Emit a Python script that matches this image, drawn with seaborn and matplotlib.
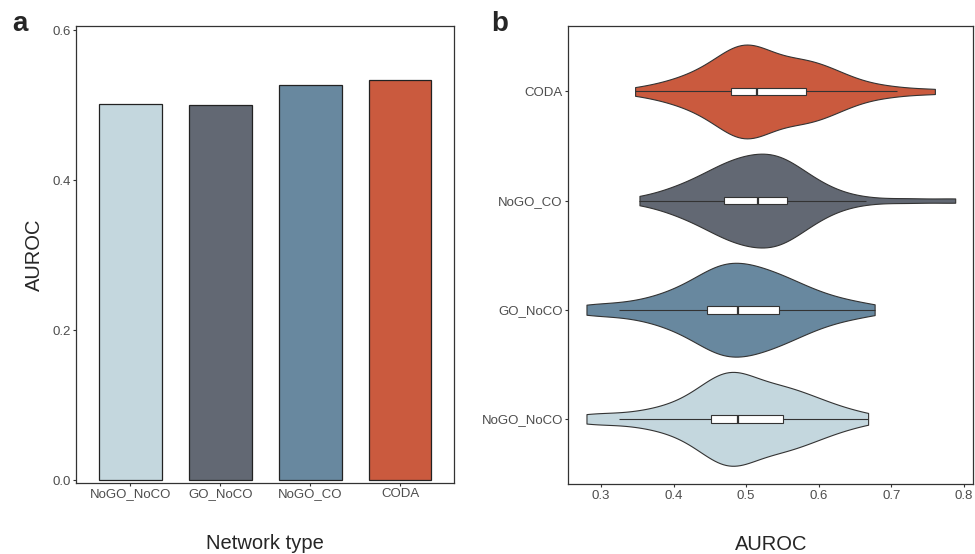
import numpy as np
import pandas as pd
import matplotlib
matplotlib.use("Agg")
import matplotlib.pyplot as plt
import seaborn as sns

# ---- data ----
bar_types = ['NoGO_NoCO', 'GO_NoCO', 'NoGO_CO', 'CODA']
bar_vals = [0.501, 0.500, 0.5275, 0.533]

violin_order = ['CODA', 'NoGO_CO', 'GO_NoCO', 'NoGO_NoCO']

auroc_coda = [0.347, 0.379, 0.394, 0.407, 0.418, 0.426, 0.434, 0.441, 0.448, 0.453, 0.459, 0.464, 0.469, 0.474, 0.478, 0.479,
              0.482, 0.485, 0.487, 0.490, 0.493, 0.495, 0.498, 0.500, 0.503, 0.506, 0.508, 0.510, 0.512, 0.514, 0.515,
              0.519, 0.524, 0.529, 0.534, 0.539, 0.544, 0.549, 0.554, 0.559, 0.564, 0.569, 0.574, 0.578, 0.582, 0.584,
              0.588, 0.593, 0.598, 0.603, 0.609, 0.615, 0.621, 0.628, 0.636, 0.646, 0.660, 0.685, 0.708, 0.760]
auroc_nogo_co = [0.353, 0.383, 0.395, 0.405, 0.414, 0.422, 0.429, 0.435, 0.441, 0.447, 0.451, 0.456, 0.460, 0.464, 0.469, 0.4695,
                 0.474, 0.477, 0.481, 0.484, 0.487, 0.490, 0.493, 0.497, 0.500, 0.503, 0.506, 0.509, 0.512, 0.5165, 0.517,
                 0.520, 0.523, 0.526, 0.529, 0.532, 0.535, 0.538, 0.541, 0.544, 0.546, 0.549, 0.552, 0.554, 0.5565, 0.557,
                 0.562, 0.566, 0.571, 0.576, 0.581, 0.586, 0.592, 0.599, 0.607, 0.617, 0.632, 0.665, 0.723, 0.788]
auroc_go_noco = [0.280, 0.291, 0.325, 0.345, 0.362, 0.376, 0.388, 0.397, 0.404, 0.410, 0.416, 0.424, 0.430, 0.436, 0.444, 0.4465,
                 0.449, 0.452, 0.455, 0.458, 0.460, 0.463, 0.467, 0.470, 0.473, 0.476, 0.480, 0.483, 0.486, 0.488, 0.490,
                 0.495, 0.499, 0.502, 0.505, 0.508, 0.512, 0.515, 0.519, 0.522, 0.526, 0.529, 0.536, 0.541, 0.545, 0.5455,
                 0.550, 0.555, 0.560, 0.565, 0.571, 0.577, 0.584, 0.592, 0.600, 0.610, 0.622, 0.636, 0.655, 0.677]
auroc_nogo_noco = [0.280, 0.291, 0.325, 0.350, 0.368, 0.382, 0.394, 0.404, 0.413, 0.421, 0.428, 0.434, 0.440, 0.445, 0.450, 0.4515,
                   0.455, 0.458, 0.461, 0.464, 0.467, 0.470, 0.473, 0.476, 0.479, 0.481, 0.483, 0.485, 0.487, 0.488, 0.4886,
                   0.492, 0.496, 0.500, 0.504, 0.508, 0.513, 0.518, 0.523, 0.528, 0.533, 0.538, 0.542, 0.546, 0.550, 0.551,
                   0.555, 0.560, 0.566, 0.571, 0.577, 0.582, 0.589, 0.595, 0.602, 0.610, 0.618, 0.630, 0.648, 0.668]

x_ticks_b = [0.3, 0.4, 0.5, 0.6, 0.7, 0.8]
y_ticks_a = [0.0, 0.2, 0.4, 0.6]

bar_colors = {'NoGO_NoCO': '#C4D7DE', 'GO_NoCO': '#626873', 'NoGO_CO': '#68889F', 'CODA': '#CA5A3E'}
violin_colors = {'NoGO_NoCO': '#C4D7DE', 'GO_NoCO': '#68889F', 'NoGO_CO': '#626873', 'CODA': '#CA5A3E'}

samples = {'CODA': auroc_coda, 'NoGO_CO': auroc_nogo_co, 'GO_NoCO': auroc_go_noco, 'NoGO_NoCO': auroc_nogo_noco}
df = pd.DataFrame([(k, v) for k in violin_order for v in samples[k]], columns=['type', 'auroc'])

# ---- style ----
sns.set_style("white")
plt.rcParams['font.family'] = ['Liberation Sans', 'DejaVu Sans']

fig = plt.figure(figsize=(9.75, 5.54), dpi=100)
ax1 = fig.add_axes([0.0783, 0.1287, 0.3873, 0.8244])
ax2 = fig.add_axes([0.5829, 0.1258, 0.4154, 0.8273])

# ---- panel a ----
sns.barplot(x=bar_types, y=bar_vals, hue=bar_types, palette=bar_colors, order=bar_types,
            width=0.7, edgecolor='#222222', linewidth=0.9, saturation=1, legend=False, ax=ax1)
ax1.set_xlim(-0.6, 3.6)
ax1.set_ylim(-0.0036, 0.6057)
ax1.set_yticks(y_ticks_a)
ax1.set_xlabel('Network type', fontsize=14.5, labelpad=24)
ax1.set_ylabel('AUROC', fontsize=14.5, labelpad=6)

# ---- panel b ----
sns.violinplot(data=df, x='auroc', y='type', order=violin_order, hue='type', hue_order=violin_order,
               palette=violin_colors, inner=None, cut=0, density_norm='width', width=0.86,
               linewidth=0.8, linecolor='#333333', saturation=1, bw_adjust=0.85, legend=False, ax=ax2)
sns.boxplot(data=df, x='auroc', y='type', order=violin_order, width=0.07, color='white',
            linecolor='#333333', linewidth=0.8, showfliers=False, showcaps=False, saturation=1,
            medianprops=dict(linewidth=1.6), ax=ax2)
ax2.set_xlim(0.255, 0.813)
ax2.set_ylim(3.6, -0.6)
ax2.set_xticks(x_ticks_b)
ax2.set_xlabel('AUROC', fontsize=14.5, labelpad=24)
ax2.set_ylabel('')

for ax in (ax1, ax2):
    for s in ax.spines.values():
        s.set_visible(True); s.set_color('#333333'); s.set_linewidth(0.9)
    ax.tick_params(axis='both', labelsize=9.5, labelcolor='#4D4D4D', color='#333333',
                   length=2, width=0.8, pad=2, left=True, bottom=True)

fig.text(12/975, 1-30.7/554, 'a', fontsize=20, fontweight='bold', va='baseline', ha='left')
fig.text(491.7/975, 1-30.7/554, 'b', fontsize=20, fontweight='bold', va='baseline', ha='left')

fig.savefig('out.png', dpi=100)
